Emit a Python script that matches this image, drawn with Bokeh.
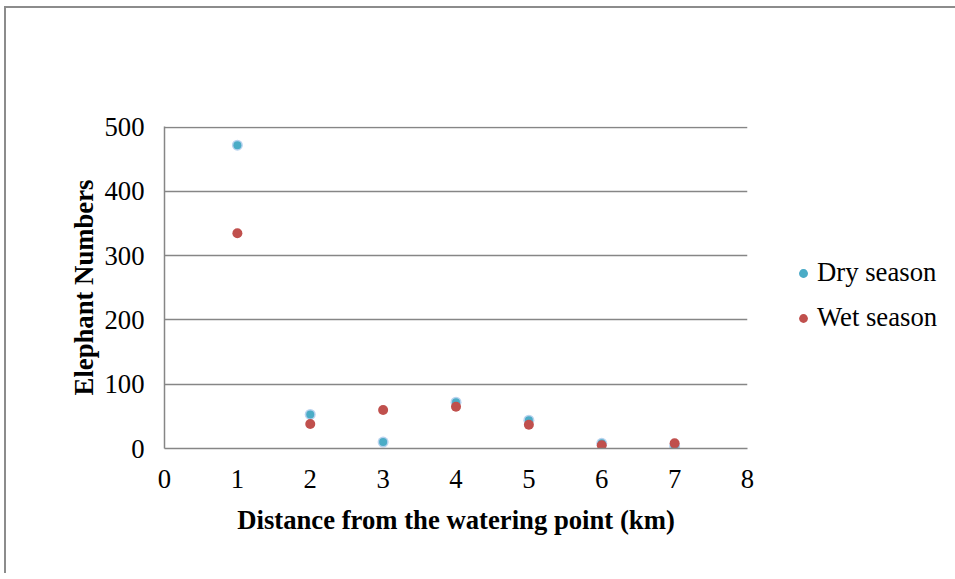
from bokeh.plotting import figure
from bokeh.models import Range1d, FixedTicker, Legend, LegendItem
from bokeh.embed import file_html
from bokeh.resources import INLINE

distance_km = [1, 2, 3, 4, 5, 6, 7]
dry_season = [472, 53, 10, 72, 44, 8, 4]
wet_season = [335, 38, 60, 65, 37, 5, 8]
x_ticks = [0, 1, 2, 3, 4, 5, 6, 7, 8]
y_ticks = [0, 100, 200, 300, 400, 500]

FONT = "Liberation Serif"
FS = "26.7px"
GRID = "#868686"

p = figure(frame_width=583, frame_height=322, output_backend="svg", toolbar_location=None,
           x_range=Range1d(0, 8), y_range=Range1d(0, 501),
           min_border_left=158, min_border_top=118, min_border_bottom=125,
           min_border_right=195,
           styles={"margin-left": "4px", "margin-top": "6px",
                   "border-left": "2px solid #8c8c8c", "border-top": "2px solid #8c8c8c"})
p.outline_line_color = None
p.background_fill_color = "white"
p.border_fill_color = "white"

for ax in (p.xaxis[0], p.yaxis[0]):
    ax.axis_line_color = GRID
    ax.axis_line_width = 1.5
    ax.major_tick_line_color = None
    ax.minor_tick_line_color = None
    ax.major_tick_out = 0
    ax.major_tick_in = 0
    ax.major_label_text_font = FONT
    ax.major_label_text_font_size = FS
    ax.major_label_text_color = "black"
    ax.axis_label_text_font = FONT
    ax.axis_label_text_font_size = FS
    ax.axis_label_text_font_style = "bold"
    ax.axis_label_text_color = "black"

p.xaxis[0].ticker = FixedTicker(ticks=x_ticks)
p.yaxis[0].ticker = FixedTicker(ticks=y_ticks)
p.xaxis[0].axis_label = "Distance from the watering point (km)"
p.yaxis[0].axis_label = "Elephant Numbers"
p.xaxis[0].major_label_standoff = 21
p.yaxis[0].major_label_standoff = 20
p.xaxis[0].axis_label_standoff = 14
p.yaxis[0].axis_label_standoff = 2

p.xgrid.grid_line_color = None
p.ygrid.grid_line_color = GRID
p.ygrid.grid_line_width = 1.5
p.ygrid.ticker = FixedTicker(ticks=y_ticks)

dry_halo = p.scatter(distance_km, dry_season, size=11, fill_color="#b9d3ef",
                     line_color=None)
dry_core = p.scatter(distance_km, dry_season, size=8, fill_color="#4bacc6",
                     line_color=None)
wet = p.scatter(distance_km, wet_season, size=10, fill_color="#c0504d",
                line_color=None)

legend = Legend(items=[LegendItem(label="Dry season", renderers=[dry_halo, dry_core]),
                       LegendItem(label="Wet season", renderers=[wet])],
                location=(45, 115), orientation="vertical")
legend.border_line_color = None
legend.background_fill_alpha = 0
legend.label_text_font = FONT
legend.label_text_font_size = FS
legend.label_text_color = "black"
legend.glyph_width = 22
legend.glyph_height = 22
legend.label_standoff = 3
legend.spacing = 14
legend.padding = 0
legend.margin = 0
p.add_layout(legend, "right")

open("out.html", "w").write(file_html(p, INLINE))
